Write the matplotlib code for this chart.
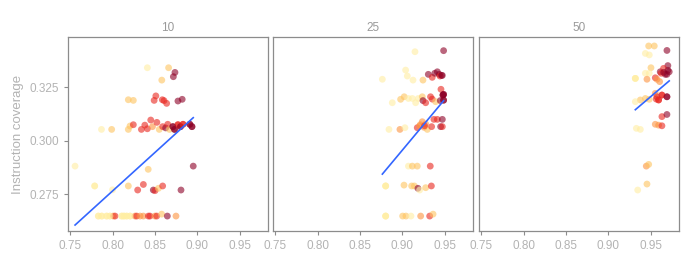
import numpy as np
import matplotlib.pyplot as plt

# facet titles
facets = ['10', '25', '50']

# colour level per point: 0 pale yellow ... 4 dark red
# (some points sit on top of each other in the dense rows)
x10 = [0.841, 0.866, 0.8735, 0.8716, 0.858, 0.8186, 0.8245, 0.851, 0.849, 0.8586, 0.8606, 0.8637, 0.877, 0.882,
       0.787, 0.799, 0.8186, 0.8206, 0.8245, 0.834, 0.838, 0.845, 0.841, 0.847, 0.8522, 0.855, 0.859, 0.8625,
       0.865, 0.867, 0.871, 0.873, 0.877, 0.880, 0.883, 0.891, 0.8935,
       0.7559, 0.895, 0.842, 0.779, 0.800, 0.8186, 0.8363, 0.8296, 0.848, 0.850, 0.854, 0.859, 0.8806,
       0.7833, 0.7873, 0.7931, 0.797, 0.801, 0.803, 0.8108, 0.8135, 0.8167, 0.8206, 0.8265, 0.8284, 0.8324,
       0.8363, 0.8422, 0.8441, 0.85, 0.852, 0.8578, 0.8645, 0.8747,
       0.7833, 0.7873, 0.7931, 0.797, 0.8108, 0.8135, 0.8167, 0.8206, 0.779,
       0.873, 0.877, 0.880, 0.883, 0.891, 0.8935, 0.871]
y10 = [0.3342, 0.3342, 0.332, 0.330, 0.3284, 0.3192, 0.3189, 0.3210, 0.3189, 0.3192, 0.3188, 0.3175, 0.3186, 0.3194,
       0.3053, 0.3053, 0.3053, 0.3069, 0.3075, 0.3053, 0.3073, 0.3097, 0.3056, 0.3066, 0.3086, 0.3053, 0.3066, 0.3060,
       0.3077, 0.3053, 0.3066, 0.3053, 0.3075, 0.3066, 0.3077, 0.3077, 0.3066,
       0.2881, 0.2881, 0.2866, 0.2788, 0.2770, 0.2788, 0.2795, 0.2769, 0.2769, 0.2766, 0.2777, 0.2788, 0.2769,
       0.2647, 0.2647, 0.2647, 0.2647, 0.2647, 0.2647, 0.2647, 0.2647, 0.2647, 0.2647, 0.2647, 0.2647, 0.2647,
       0.2647, 0.2647, 0.2647, 0.2647, 0.2647, 0.2656, 0.2647, 0.2647,
       0.2647, 0.2647, 0.2647, 0.2647, 0.2647, 0.2647, 0.2647, 0.2647, 0.2788,
       0.3053, 0.3075, 0.3066, 0.3077, 0.3077, 0.3066, 0.3066]
c10 = [0, 1, 4, 4, 1, 1, 1, 3, 3, 3, 3, 3, 4, 4,
       0, 1, 1, 1, 3, 3, 3, 3, 3, 2, 3, 1, 3, 4,
       3, 1, 4, 4, 3, 4, 3, 4, 4,
       0, 4, 1, 0, 0, 1, 3, 3, 4, 3, 1, 3, 4,
       0, 0, 0, 0, 2, 3, 0, 0, 0, 0, 2, 3, 2,
       2, 3, 3, 2, 3, 1, 4, 2,
       0, 0, 0, 0, 0, 0, 0, 0, 0,
       4, 3, 4, 3, 4, 4, 4]

x25 = [0.9147, 0.9484, 0.9037, 0.9057, 0.9124, 0.8763, 0.9241, 0.9304, 0.935, 0.938, 0.941, 0.9433, 0.9441, 0.946,
       0.888, 0.8978, 0.902, 0.907, 0.9116, 0.9155, 0.9186, 0.9233, 0.9241, 0.9273, 0.933, 0.935, 0.939, 0.9453,
       0.9445, 0.9476, 0.9484, 0.9484,
       0.8841, 0.897, 0.9029, 0.9174, 0.9202, 0.9233, 0.9253, 0.9273, 0.9292, 0.937, 0.9343, 0.941, 0.9449,
       0.9469, 0.9469, 0.921, 0.926,
       0.907, 0.9116, 0.9174, 0.9327, 0.8802, 0.9018, 0.9108, 0.914, 0.9182, 0.9202, 0.9273, 0.934,
       0.8802, 0.9002, 0.9041, 0.910, 0.9214, 0.932, 0.936,
       0.8802, 0.8802, 0.8802, 0.8802, 0.9476, 0.9484, 0.9484, 0.9469]
y25 = [0.3417, 0.3422, 0.3331, 0.3303, 0.3284, 0.3288, 0.3284, 0.3311, 0.3297, 0.3316, 0.3323, 0.3311, 0.3303, 0.3306,
       0.3178, 0.3194, 0.3206, 0.3198, 0.3198, 0.3178, 0.3198, 0.3206, 0.3188, 0.3178, 0.3206, 0.3195, 0.3183, 0.3241,
       0.3188, 0.3214, 0.3217, 0.3190,
       0.3053, 0.3053, 0.3061, 0.3061, 0.3069, 0.3089, 0.3063, 0.3078, 0.3053, 0.3100, 0.3066, 0.3100, 0.3066,
       0.3100, 0.3066, 0.3075, 0.3070,
       0.2881, 0.2881, 0.2881, 0.2881, 0.2788, 0.2792, 0.2788, 0.2788, 0.2777, 0.2769, 0.2780, 0.2788,
       0.2647, 0.2647, 0.2647, 0.2647, 0.2647, 0.2647, 0.2656,
       0.2647, 0.2647, 0.2788, 0.2788, 0.3214, 0.3217, 0.3190, 0.3306]
c25 = [0, 4, 0, 0, 0, 0, 1, 4, 3, 4, 4, 4, 3, 4,
       0, 1, 1, 0, 0, 0, 0, 1, 4, 3, 3, 3, 1, 3,
       4, 4, 4, 4,
       0, 2, 0, 3, 2, 2, 2, 2, 1, 3, 3, 3, 4,
       4, 3, 2, 3,
       0, 1, 1, 3, 0, 1, 1, 1, 4, 0, 1, 3,
       0, 1, 1, 0, 2, 3, 1,
       0, 0, 0, 0, 4, 4, 4, 4]

x50 = [0.9473, 0.9539, 0.9434, 0.948, 0.9688, 0.9699, 0.950, 0.9434, 0.948, 0.9316, 0.9453, 0.9551, 0.9609, 0.9648,
       0.9668, 0.9715, 0.9688, 0.957, 0.9602, 0.962, 0.965, 0.970,
       0.9551, 0.957, 0.959, 0.9629, 0.9688, 0.9375, 0.9434, 0.948, 0.9316, 0.9562,
       0.9629, 0.9688, 0.9551, 0.959, 0.9629, 0.9328, 0.9375, 0.9445, 0.9473, 0.9453, 0.9344,
       0.9316, 0.9316, 0.959, 0.9629, 0.9688]
y50 = [0.3444, 0.3444, 0.3409, 0.3402, 0.3423, 0.3352, 0.3342, 0.3316, 0.3316, 0.3292, 0.3288, 0.3295, 0.3323, 0.3339,
       0.3311, 0.3323, 0.3311, 0.3288, 0.3277, 0.3316, 0.3320, 0.3330,
       0.3222, 0.3206, 0.3191, 0.3214, 0.3206, 0.3191, 0.3198, 0.3194, 0.3183, 0.3195,
       0.3113, 0.3123, 0.3077, 0.3073, 0.3070, 0.3058, 0.3053, 0.2881, 0.2889, 0.2797, 0.2769,
       0.3292, 0.3292, 0.3191, 0.3214, 0.3206]
c50 = [1, 1, 0, 0, 4, 4, 1, 0, 0, 0, 2, 3, 4, 3,
       4, 4, 4, 2, 2, 3, 4, 4,
       2, 3, 3, 3, 4, 1, 1, 1, 0, 3,
       3, 4, 2, 2, 3, 0, 0, 2, 1, 1, 0,
       0, 0, 3, 3, 4]

xs = [x10, x25, x50]
ys = [y10, y25, y50]
cs = [c10, c25, c50]

level_pos = [0.12, 0.32, 0.48, 0.72, 0.97]
cmap = plt.get_cmap('YlOrRd')

plt.rcParams['font.family'] = ['Liberation Sans', 'DejaVu Sans']
grey = '#9a9a9a'
tick_grey = '#b3b3b3'

fig = plt.figure(figsize=(7, 2.7), dpi=100)
lefts = [68 / 700, 273 / 700, 479 / 700]
for i in range(3):
    ax = fig.add_axes([lefts[i], 39 / 270, 200 / 700, 194 / 270])
    x = np.array(xs[i])
    y = np.array(ys[i])
    col = [cmap(level_pos[k]) for k in cs[i]]
    ax.scatter(x, y, s=24, c=col, alpha=0.6, edgecolors='none', zorder=2)

    # linear fit like geom_smooth(method='lm')
    b, a = np.polyfit(x, y, 1)
    xx = np.array([x.min(), x.max()])
    ax.plot(xx, a + b * xx, color='#3366FF', lw=1.2, zorder=3)

    ax.set_xlim(0.7476, 0.983)
    ax.set_ylim(0.2577, 0.3486)
    ax.set_xticks([0.75, 0.80, 0.85, 0.90, 0.95])
    ax.set_xticklabels(['0.75', '0.80', '0.85', '0.90', '0.95'])
    ax.set_title(facets[i], fontsize=8.5, color=grey, pad=4)
    for s in ax.spines.values():
        s.set_color('#8c8c8c')
        s.set_linewidth(0.9)
    ax.tick_params(axis='both', colors='#8c8c8c', labelcolor=tick_grey, labelsize=8.5, length=3, width=0.8)
    if i == 0:
        ax.set_yticks([0.275, 0.300, 0.325])
        ax.set_yticklabels(['0.275', '0.300', '0.325'])
        ax.set_ylabel('Instruction coverage', fontsize=9.5, color=tick_grey, labelpad=4)
    else:
        ax.set_yticks([])

fig.savefig('out.png', dpi=100)
